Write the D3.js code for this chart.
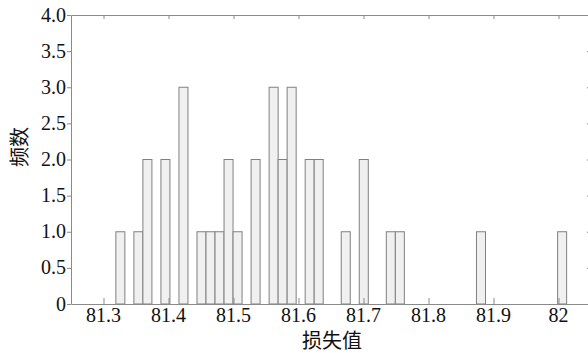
<!DOCTYPE html>
<html>
<head>
<meta charset="utf-8">
<script src="https://cdn.jsdelivr.net/npm/d3@7"></script>
<style>
  html, body { margin: 0; padding: 0; background: #fff; }
  svg { display: block; }
  svg text.num { font-family: "Liberation Serif", "Times New Roman", serif !important; }
</style>
</head>
<body>
<svg id="chart" width="588" height="353"></svg>
<script>
// Histogram of loss values: 50 equal-width bins between binMin and binMax
const binMin = 81.319;
const binMax = 82.0125;
const binCounts = [
  1, 0, 1, 2, 0, 2, 0, 3, 0, 1,
  1, 1, 2, 1, 0, 2, 0, 3, 2, 3,
  0, 2, 2, 0, 0, 1, 0, 2, 0, 0,
  1, 1, 0, 0, 0, 0, 0, 0, 0, 0,
  1, 0, 0, 0, 0, 0, 0, 0, 0, 1
];
const xDomain = [81.25, 82.05];
const xTicks = [81.3, 81.4, 81.5, 81.6, 81.7, 81.8, 81.9, 82.0];
const yDomain = [0, 4];
const yTicks = [0, 0.5, 1.0, 1.5, 2.0, 2.5, 3.0, 3.5, 4.0];
const xTitle = "损失值";
const yTitle = "频数";

const svg = d3.select("#chart");
const plot = { left: 71, right: 591, top: 15, bottom: 304 };

const x = d3.scaleLinear().domain(xDomain).range([plot.left, plot.right]);
const y = d3.scaleLinear().domain(yDomain).range([plot.bottom, plot.top]);

const binWidth = (binMax - binMin) / binCounts.length;
const bins = binCounts.map((c, i) => ({
  x0: binMin + i * binWidth,
  x1: binMin + (i + 1) * binWidth,
  count: c
})).filter(b => b.count > 0);

svg.append("rect").attr("width", 588).attr("height", 353).attr("fill", "#fff");

const frameColor = "#8a8a8a";
const serif = "Liberation Serif";
const cjk = "Noto Sans CJK SC";

// bars
svg.append("g")
  .selectAll("rect")
  .data(bins)
  .join("rect")
  .attr("x", d => x(d.x0))
  .attr("y", d => y(d.count))
  .attr("width", d => x(d.x1) - x(d.x0))
  .attr("height", d => y(0) - y(d.count))
  .attr("fill", "#f0f0f0")
  .attr("stroke", "#808080")
  .attr("stroke-width", 1);

function styleAxis(g) {
  g.selectAll(".domain").attr("stroke", frameColor);
  g.selectAll(".tick line").attr("stroke", frameColor);
}

// frame and tick marks on all four sides
svg.append("g")
  .attr("transform", `translate(0,${plot.bottom})`)
  .call(d3.axisBottom(x).tickValues(xTicks).tickFormat("")
    .tickSizeInner(-6).tickSizeOuter(0))
  .call(styleAxis);

svg.append("g")
  .attr("transform", `translate(0,${plot.top})`)
  .call(d3.axisTop(x).tickValues(xTicks).tickFormat("")
    .tickSizeInner(-4).tickSizeOuter(0))
  .call(styleAxis);

svg.append("g")
  .attr("transform", `translate(${plot.left},0)`)
  .call(d3.axisLeft(y).tickValues(yTicks).tickFormat("")
    .tickSizeInner(4).tickSizeOuter(0))
  .call(styleAxis);

svg.append("g")
  .attr("transform", `translate(${plot.right},0)`)
  .call(d3.axisRight(y).tickValues(yTicks).tickFormat("")
    .tickSizeInner(-4).tickSizeOuter(0))
  .call(styleAxis);

// tick labels
const fmtX = d3.format("~g");
const fmtY = d => d === 0 ? "0" : d3.format(".1f")(d);

function serifText(sel) {
  sel.attr("class", "num")
    .attr("font-family", serif)
    .attr("font-size", 20)
    .attr("fill", "#111")
    .each(function () {
      this.style.setProperty("font-family", serif, "important");
      this.style.setProperty("font-size", "20px", "important");
    });
}

svg.append("g")
  .selectAll("text")
  .data(xTicks)
  .join("text")
  .attr("x", d => x(d))
  .attr("y", plot.bottom + 18)
  .attr("text-anchor", "middle")
  .text(fmtX)
  .call(serifText);

svg.append("g")
  .selectAll("text")
  .data(yTicks)
  .join("text")
  .attr("x", plot.left - 5)
  .attr("y", d => y(d) + 6.5)
  .attr("text-anchor", "end")
  .text(fmtY)
  .call(serifText);

// axis titles
svg.append("text")
  .attr("x", 332)
  .attr("y", 348)
  .attr("text-anchor", "middle")
  .style("font-family", cjk)
  .style("font-size", "20px")
  .style("fill", "#111")
  .text(xTitle);

svg.append("text")
  .attr("transform", "translate(26.5,147) rotate(-90)")
  .attr("text-anchor", "middle")
  .style("font-family", cjk)
  .style("font-size", "20px")
  .style("fill", "#111")
  .text(yTitle);
</script>
</body>
</html>
